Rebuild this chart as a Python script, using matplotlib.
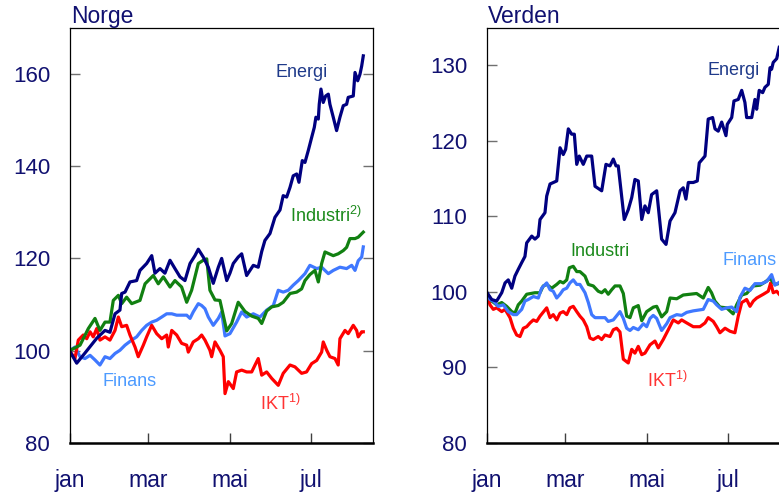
import matplotlib
matplotlib.use("Agg")
import matplotlib.pyplot as plt

plt.rcParams['font.family'] = ['Liberation Sans', 'DejaVu Sans']

# %% Data (index, 1. jan = 100), x = days since 1 Jan
months = [0, 59, 120, 181]
month_labels = ['jan', 'mar', 'mai', 'jul']

# Norge
no_energi_d = [0, 5.4, 11.6, 20.4, 26.6, 30.3, 34.1, 37.8, 39.1, 41.6, 45.3, 50.3, 52.8, 57.8,
               61.6, 64, 67.8, 71.5, 75.3, 79, 82.8, 86.5, 90.3, 94, 96.5, 100.2, 104, 107.7,
               111.5, 114, 117.8, 120.2, 122.7, 126.4, 129, 132.7, 137.7, 141.4, 144, 146.4,
               150.2, 153.9, 157.7, 160.1, 162.7, 165.2, 167.6, 170.2, 171.9, 174.4, 176.4,
               178.9, 181.4, 183.4, 184.6, 186.4, 187.1, 188.4, 190.1, 191.9, 193.9, 195.1,
               197.6, 200.1, 202.6, 205.1, 207.6, 208.8, 212.6, 213.9, 215.9, 217.6, 218.9, 220.1]
no_energi = [100, 97.3, 99.5, 102.7, 104.4, 104, 108, 108.8, 112.4, 112.7, 114.9, 115.2, 117.4, 118.9,
             120.6, 116.8, 117.8, 116.8, 119.6, 117.8, 116, 115.2, 118.9, 120.6, 122, 120.3, 118.1, 114.6,
             118.1, 120, 115.2, 116.8, 118.9, 120.3, 121, 116.3, 118.5, 118.1, 121.5, 123.9,
             125.4, 128.9, 130.5, 133.6, 133.3, 135.4, 137.9, 138.3, 136.5, 141.2, 140.8,
             143.4, 146.2, 148.4, 150.6, 150.2, 153.4, 156.7, 153.8, 155.2, 155.6, 153.4,
             150.6, 147.7, 150.6, 153.1, 153.4, 154.9, 155.2, 160.3, 158.5, 159.9, 161.7, 163.9]

no_industri_d = [0, 7.9, 14.1, 19.1, 22.8, 26.6, 30.3, 32.8, 36.6, 39.1, 42.8, 46.6, 52.8, 56.6, 62.8,
                 66.5, 70.3, 75.3, 79, 84, 87.8, 91.5, 96.5, 100.2, 102.8, 105.2, 109, 112.7, 117.8,
                 121.5, 126.4, 131.5, 136.5, 141.4, 144, 147.7, 151.5, 156.4, 160.1, 165.2, 170.2,
                 173.9, 176.4, 180.1, 183.9, 186.4, 188.9, 191.4, 197.6, 201.3, 205.1, 207.6, 210.1,
                 213.9, 216.3, 220.1]
no_industri = [100, 101.2, 104.8, 107, 104.4, 106.2, 106.2, 110.9, 112, 110.2, 111.6, 110.2, 110.9, 114.5, 116.3,
               114.5, 116, 113.8, 115.2, 113.8, 110.5, 113.1, 118.9, 119.6, 119.9, 113.1, 111, 110.9, 104.3,
               105.9, 110.5, 108.5, 107.5, 107, 105.9, 108.6, 109.5, 109.8, 110.5, 112.4, 112.7,
               113.4, 115.2, 116.5, 117.4, 114.9, 118.9, 121.4, 120.6, 121, 121.7, 122.4, 124.3,
               124.3, 124.6, 125.7]

no_finans_d = [0, 4.1, 7.9, 11.6, 15.4, 19.1, 22.8, 26.6, 30.3, 34.1, 37.8, 41.6, 46.6, 50.3, 54.1, 57.8,
               61.6, 65.3, 69.1, 72.8, 76.6, 80.3, 87.8, 90.3, 92.7, 96.5, 99, 101.5, 104, 107.7, 111.5,
               114, 116.5, 120.2, 125.2, 129, 132.7, 137.7, 142.7, 147.7, 152.7, 156.4, 160.1, 163.9,
               167.6, 171.4, 176.4, 180.1, 185.2, 188.9, 193.9, 197.6, 202.6, 207.6, 211.4, 213.9,
               216.3, 218.9, 220.1]
no_finans = [100, 100.8, 98.7, 98.3, 99, 98, 96.9, 98.7, 98.3, 99.4, 100.1, 101.2, 102.3, 103, 104.4, 105.5,
             106.2, 106.6, 107.3, 108, 108, 107.7, 107.7, 107, 108.4, 110.2, 109.8, 109.1, 107.3, 105.5, 107,
             108.4, 103.2, 103.7, 106.2, 108.4, 107.3, 108, 107.3, 108.8, 109.8, 113.1, 112.7, 113.1,
             114.2, 115.2, 116.7, 118.5, 117.8, 118.1, 116.7, 117.4, 118.1, 117.8, 118.5, 117.4,
             119.5, 120.3, 122.5]

no_ikt_d = [0, 4.1, 6.6, 10.3, 12.9, 15.4, 17.8, 20.4, 22.8, 26.6, 30.3, 34.1, 36.6, 39.1, 42.8, 45.3,
            49.1, 51.5, 55.3, 57.8, 61.6, 65.3, 69.1, 72.8, 74, 76.6, 80.3, 84, 87.8, 89, 92.7, 96.5,
            99, 101.5, 105.2, 106.5, 109, 112.7, 115.2, 116.5, 119, 122.7, 125.2, 129, 132.7, 136.5,
            139, 141.4, 144, 147.7, 151.5, 156.4, 160.1, 165.2, 168.9, 173.9, 177.6, 181.4, 185.2,
            188.9, 190.1, 192.7, 195.1, 198.9, 201.3, 202.6, 206.4, 208.8, 212.6, 215.1, 216.3,
            218.9, 220.1]
no_ikt = [100, 98.3, 102.3, 103.4, 102.6, 104.1, 103, 104.8, 102.3, 103, 102.3, 104.4, 107.3, 105.2, 105.5, 103.4,
          100.8, 98.7, 101.2, 103, 105.5, 103.7, 102.6, 103.4, 100.8, 104.4, 103.4, 101.6, 101.2, 99.7, 101.9, 102.6,
          103.4, 102.3, 100.1, 98.7, 101.9, 100.1, 98.7, 90.7, 93.3, 91.8, 95.4, 95.8, 95.4, 95.4,
          96.9, 98.3, 94.7, 95.4, 94, 92.5, 95.1, 96.9, 96.5, 95.1, 95.4, 97.2, 97.9,
          99.7, 101.9, 100.1, 98.7, 98.3, 96.9, 102.6, 104.4, 103.7, 105.5, 104.4, 103,
          104.1, 104.1]

# Verden
w_energi_d = [0, 3.9, 7.6, 11.4, 13.9, 16.3, 18.9, 21.3, 23.8, 26.4, 28.8, 30.1, 33.9, 36.3, 38.8, 40.1,
              43.8, 45.1, 47.6, 52.6, 55.1, 57.5, 59.3, 61.3, 63.8, 65.8, 67.6, 69.5, 72.5, 75.1, 78.8,
              81.3, 86.3, 89.5, 92.5, 95, 97, 98.7, 103.2, 106.2, 108.8, 111.2, 113.7, 116.3, 118.7,
              121.2, 123.7, 127.5, 131.2, 134.5, 137.5, 141.2, 145, 147.4, 149.4, 151.2, 154.9, 157.9,
              159.4, 163.7, 166.1, 169.4, 171.2, 173.6, 176.2, 179.4, 180.4, 183.7, 185.4, 188.6,
              191.2, 193.6, 194.9, 198.7, 201.1, 202.4, 204.3, 206.9, 208.6, 211.1, 212.4, 213.6,
              214.8, 217.4, 219.3]
w_energi = [100, 99, 98.8, 99.9, 101.2, 101.6, 100.5, 102.1, 103, 103.9, 104.7, 106.5, 107.4, 107, 107.4, 109.6,
            110.5, 112.7, 114.3, 114.7, 119.1, 118.2, 118.9, 121.6, 120.9, 120.9, 116.9, 118, 116.9, 118, 118,
            114, 113.4, 116.9, 116.7, 117.6, 116.7, 116.7, 109.6, 110.9, 112.5, 114.9, 114.7, 109.6, 111.4,
            110.5, 112.9, 113.4, 107, 106.3, 109.4, 110.5, 113.4, 113.8, 112.3, 114.5, 114.5, 114.7,
            117.1, 118, 122.9, 123.1, 121.6, 121.3, 122.5, 120.7, 122.2, 123.1, 125.3, 125.5,
            126.7, 125.1, 123.1, 123.1, 125.5, 124.2, 126.7, 126.4, 127.1, 127.5, 129.7, 129.5,
            130.4, 130.9, 132.4]

w_industri_d = [0, 3.9, 7.6, 11.4, 15.1, 18.9, 21.3, 23.8, 26.4, 30.1, 36.3, 40.1, 42.5, 45.1, 48.8, 52.6,
                55.1, 57.5, 60.1, 62, 65, 67.6, 70, 73.8, 76.3, 80, 83.7, 86.3, 88.8, 91.2, 93.8, 96.3,
                100, 102.5, 105, 107.5, 110, 113.7, 116.3, 120, 125, 127.5, 131.2, 135, 137.5, 142.5,
                147.4, 152.4, 157.4, 162.4, 166.1, 168.6, 171.1, 174.9, 179.9, 184.8, 187.4, 191.2,
                194.9, 199.9, 204.9, 208.6, 212.4, 216.1, 218.6]
w_industri = [100, 98.8, 98.3, 98.6, 98.1, 97.4, 97.2, 98.3, 98.8, 99.7, 99.9, 99.9, 100.8, 101, 100.5, 101,
              101.4, 101.2, 101.6, 103.2, 103.4, 102.7, 102.7, 102.1, 101, 100.8, 100.1, 99.9, 100.3, 99.7, 100.3, 100.8,
              100.8, 99.8, 96.8, 96.6, 97.9, 98.2, 96.2, 97.4, 98, 98.1, 96.7, 97.4, 99.2, 99.1,
              99.6, 99.7, 99.8, 99.2, 100.6, 99.9, 98.8, 98, 97.9, 97.1, 98.3, 99.6,
              99.8, 100.8, 100.9, 101.3, 101.8, 101, 101.1]

w_finans_d = [0, 2.6, 5.1, 8.8, 12.6, 16.3, 20.1, 22.6, 26.4, 28.8, 31.3, 35.1, 38.8, 41.3, 45.1, 47.6,
              50, 52.6, 55.1, 57.5, 60.1, 62.5, 65, 67.6, 70, 73.8, 76.3, 78.8, 81.3, 88.8, 91.2, 95,
              100, 102.5, 105, 107.5, 110, 113.7, 117.5, 120, 122.5, 124.9, 127.5, 131.2, 135, 137.5,
              142.5, 146.2, 150, 154.9, 162.4, 166.1, 169.9, 172.4, 176.2, 179.9, 183.7, 187.4, 189.9,
              193.6, 197.4, 201.1, 206.1, 209.9, 213.6, 216.1, 218.6]
w_finans = [100, 99, 98.8, 98.1, 98.3, 97.4, 97, 97, 97.7, 98.8, 99, 99.4, 99.2, 100.5, 101.2, 100.3,
            100.1, 99.2, 99.7, 100.3, 100.5, 101.2, 101.6, 101, 101, 99.9, 98.6, 97, 96.6, 96.6, 96.1, 96.3,
            97.4, 96.5, 95.2, 94.9, 95.3, 95, 95.8, 95.4, 96.5, 96.9, 96.5, 94.9, 95.8, 96.6,
            97, 96.9, 97.3, 97.5, 97.7, 99, 98.8, 98.3, 97.7, 97.9, 98, 97.4, 99.3,
            100.5, 100.2, 101.1, 101.1, 101.4, 102.3, 100.9, 101.2]

w_ikt_d = [0, 2.6, 5.1, 7.6, 11.4, 13.9, 17.6, 20.1, 22.6, 25.1, 27.6, 30.1, 32.6, 35.1, 37.6, 40.1,
           45.1, 47.6, 50, 52.6, 55.1, 57.5, 60.1, 62.5, 65, 67.6, 70, 72.5, 75.1, 77.5, 80, 83.7,
           86.3, 88.8, 92.5, 95, 97.5, 100, 102.5, 106.2, 108.8, 111.2, 113.7, 116.3, 118.7, 122.5,
           126.2, 128.7, 132.4, 136.2, 139.9, 143.7, 146.2, 150, 154.9, 159.9, 163.7, 166.1, 169.9,
           172.4, 174.9, 178.7, 182.4, 186.1, 188.6, 191.2, 194.9, 197.4, 199.9, 202.4, 207.4,
           211.1, 212.9, 214.8, 217.4, 219.3]
w_ikt = [100, 98.3, 97.7, 97.9, 97.4, 97.7, 96.6, 95.2, 94.3, 94.1, 95.2, 95.4, 95.9, 96.3, 96.1, 96.8,
         97.9, 96.6, 97, 96.3, 97.2, 97.4, 97, 97.9, 98.1, 97.4, 96.8, 96.3, 95.4, 93.9, 93.7, 94.1,
         93.7, 94.3, 94.1, 95, 95.2, 94.7, 91.1, 90.6, 92.4, 91.9, 92.8, 91.7, 91.9, 93,
         93.5, 92.6, 93.7, 95, 96.3, 95.9, 96.3, 95.9, 95.4, 95.4, 95.9, 96.6, 96.1,
         95.4, 94.6, 95.2, 94.8, 94.6, 96.8, 98.6, 99, 98.1, 98.8, 99.2, 99.7,
         100.1, 101.2, 99.9, 100.1, 99.7]

# %% Styles
navy = '#000080'
green = '#118011'
lblue = '#3f78ff'
red = '#ff0000'
txt = '#101070'

W, H = 779, 501
fig = plt.figure(figsize=(W / 100, H / 100), dpi=100)

ax1 = fig.add_axes([69.5 / W, 1 - 443 / H, 303 / W, 415.3 / H])
ax2 = fig.add_axes([486.5 / W, 1 - 443 / H, 303 / W, 415.3 / H])


def style(ax, ylim, yticks, title):
    ax.set_xlim(0, 227)
    ax.set_ylim(*ylim)
    ax.set_yticks(yticks)
    ax.set_xticks(months)
    ax.set_xticklabels(month_labels)
    ax.tick_params(axis='y', direction='in', length=7, width=1, color='#707070',
                   left=True, right=True, labelsize=16, labelcolor=txt, pad=14)
    ax.tick_params(axis='x', direction='in', length=7, width=1, color='#404040',
                   labelsize=16.5, labelcolor=txt, pad=19)
    for s in ['top', 'left', 'right']:
        ax.spines[s].set_linewidth(0.9)
    ax.spines['bottom'].set_linewidth(1.8)
    ax.text(0.005, 1.012, title, transform=ax.transAxes, fontsize=16.5,
            color=txt, ha='left', va='baseline')


style(ax1, (80, 170), [80, 100, 120, 140, 160], 'Norge')
style(ax2, (80, 135), [80, 90, 100, 110, 120, 130], 'Verden')

lw = 2.3
ax1.plot(no_finans_d, no_finans, color=lblue, lw=lw)
ax1.plot(no_ikt_d, no_ikt, color=red, lw=lw)
ax1.plot(no_industri_d, no_industri, color=green, lw=lw)
ax1.plot(no_energi_d, no_energi, color=navy, lw=lw)

ax2.plot(w_ikt_d, w_ikt, color=red, lw=lw)
ax2.plot(w_industri_d, w_industri, color=green, lw=lw)
ax2.plot(w_finans_d, w_finans, color=lblue, lw=lw)
ax2.plot(w_energi_d, w_energi, color=navy, lw=lw)

fs = 13
ax1.text(174, 160.2, 'Energi', color='#1f3a8a', fontsize=fs, ha='center', va='center')
ax1.text(165, 129.3, 'Industri$^{\\mathregular{2)}}$', color='#1b8a1b', fontsize=fs, ha='left', va='center')
ax1.text(45, 93.4, 'Finans', color='#4d9bff', fontsize=fs, ha='center', va='center')
ax1.text(142.7, 88.4, 'IKT$^{\\mathregular{1)}}$', color='#ff3333', fontsize=fs, ha='left', va='center')

ax2.text(185, 129.3, 'Energi', color='#1f3a8a', fontsize=fs, ha='center', va='center')
ax2.text(85, 105.3, 'Industri', color='#1b8a1b', fontsize=fs, ha='center', va='center')
ax2.text(197.4, 104.2, 'Finans', color='#4d9bff', fontsize=fs, ha='center', va='center')
ax2.text(120.2, 88.2, 'IKT$^{\\mathregular{1)}}$', color='#ff3333', fontsize=fs, ha='left', va='center')

fig.savefig('out.png', dpi=100)
